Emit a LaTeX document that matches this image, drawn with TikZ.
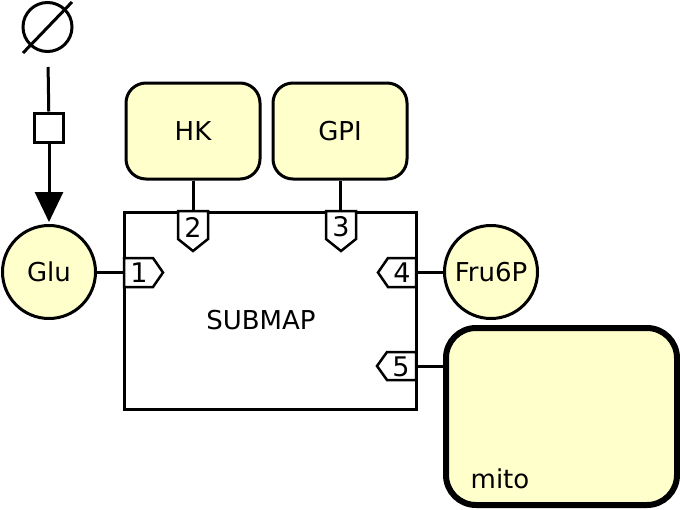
\documentclass[tikz,border=0pt]{standalone}
\usepackage{fontspec}
\setmainfont{DejaVu Sans}
\usetikzlibrary{arrows.meta,calc}
\definecolor{fillY}{HTML}{FFFFCC}
\begin{document}
\begin{tikzpicture}[x=1pt,y=-1pt, line width=3pt,
  lbl/.style={font=\fontsize{26}{29}\selectfont, inner sep=0pt},
  species/.style={circle, draw, fill=fillY, minimum size=93pt, inner sep=0pt, lbl},
  enzyme/.style={rectangle, rounded corners=20pt, draw, fill=fillY, minimum width=134pt, minimum height=96pt, lbl},
  portnum/.style={lbl, font=\fontsize{27}{30}\selectfont},
  portshape/.style={draw, fill=white, line width=2.5pt, line join=miter},
  procbox/.style={rectangle, draw, fill=white, minimum width=29pt, minimum height=29pt, inner sep=0pt},
  conn/.style={draw, line width=3pt}]
\useasboundingbox (0,0) rectangle (680,509);

% empty set (source)
\node[circle, draw, minimum size=49pt, inner sep=0pt] (es) at (47.5,27) {};
\draw ($(es.center)+(-24.5,26)$) -- ($(es.center)+(24.5,-25)$);

% process and Glu
\node[procbox] (proc) at (49,127.5) {};
\node[species] (glu) at (49,272) {Glu};
\draw[conn, shorten <=14pt] (es) -- (proc);
\draw[conn, -{Triangle[length=30pt,width=28pt]}, shorten >=2pt] (proc) -- (glu);

% enzymes
\node[enzyme] (hk) at (193,131) {HK};
\node[enzyme] (gpi) at (340,131) {GPI};

% submap box
\node[rectangle, draw, minimum width=292pt, minimum height=197pt, inner sep=0pt] (box) at (270,310.5) {};
\node[lbl] (submaplbl) at (261,320) {SUBMAP};

% species on right
\node[species] (fru) at (491,272) {Fru6P};
\node[rectangle, draw, fill=fillY, line width=6pt, rounded corners=30pt, minimum width=231pt, minimum height=177pt] (mito) at (561.5,416.5) {};
\node[lbl, anchor=base] (mitolbl) at (500,488) {mito};

% connectors
\draw[conn] (glu) -- (glu -| box.west);
\draw[conn] (hk.south) -- (hk.south |- box.north);
\draw[conn] (gpi.south) -- (gpi.south |- box.north);
\draw[conn] (fru) -- (fru -| box.east);
\coordinate (p5c) at (416,366);
\draw[conn] (p5c) -- (p5c -| mito.west);

% ports
\draw[portshape] (124,258) -- (153,258) -- (163,272.5) -- (153,287) -- (124,287) -- cycle;
\node[portnum] (p1) at (139,273) {1};
\draw[portshape] (178,211) -- (208,211) -- (208,239) -- (193,251) -- (178,239) -- cycle;
\node[portnum] (p2) at (193,227) {2};
\draw[portshape] (326,211) -- (356,211) -- (356,239) -- (341,251) -- (326,239) -- cycle;
\node[portnum] (p3) at (341,227) {3};
\draw[portshape] (416,258) -- (388,258) -- (378,272.5) -- (388,287) -- (416,287) -- cycle;
\node[portnum] (p4) at (402,273) {4};
\draw[portshape] (416,352) -- (387,352) -- (377,366) -- (387,380) -- (416,380) -- cycle;
\node[portnum] (p5) at (401,367) {5};
\end{tikzpicture}
\end{document}
